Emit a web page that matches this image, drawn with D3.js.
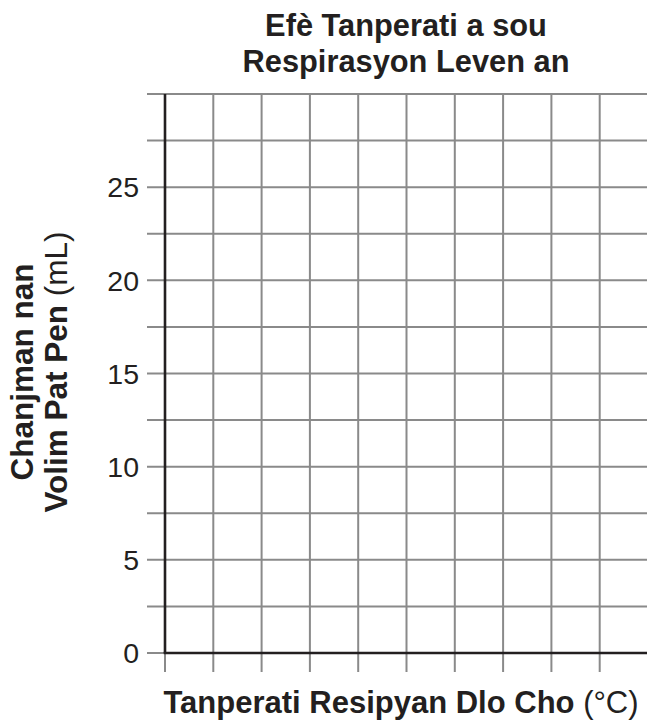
<!DOCTYPE html>
<html>
<head>
<meta charset="utf-8">
<script src="https://cdn.jsdelivr.net/npm/d3@7"></script>
<style>
  body { margin: 0; background: #fff; }
  svg { display: block; font-family: "Liberation Sans", Arial, Helvetica, sans-serif; }
</style>
</head>
<body>
<div id="chart"></div>
<script>
// chart text
const titleLines = ["Efè Tanperati a sou", "Respirasyon Leven an"];
const yLabelLines = [["Chanjman nan", ""], ["Volim Pat Pen", " (mL)"]];
const xLabelBold = "Tanperati Resipyan Dlo Cho";
const xLabelUnit = " (°C)";

// grid values (empty graph, no series)
const xGridValues = d3.range(0, 11);              // 10 columns
const yGridValues = d3.range(0, 30.01, 2.5);      // 12 rows
const yTickLabels = [0, 5, 10, 15, 20, 25];

const width = 647, height = 721;
const plot = { left: 165, right: 648, top: 94, bottom: 653 };

const svg = d3.select("#chart").append("svg")
  .attr("width", width)
  .attr("height", height);

const x = d3.scaleLinear().domain([0, 10]).range([plot.left, plot.right]);
const y = d3.scaleLinear().domain([0, 30]).range([plot.bottom, plot.top]);

const gridColor = "#8a8a8a";

// horizontal grid lines (stick out left of the axis)
svg.append("g").selectAll("line.hgrid")
  .data(yGridValues)
  .enter()
  .append("line")
  .attr("class", "hgrid")
  .attr("x1", plot.left - 18)
  .attr("x2", width)
  .attr("y1", d => y(d))
  .attr("y2", d => y(d))
  .attr("stroke", gridColor)
  .attr("stroke-width", 2);

// vertical grid lines (stick out below the axis)
svg.append("g").selectAll("line.vgrid")
  .data(xGridValues)
  .enter()
  .append("line")
  .attr("class", "vgrid")
  .attr("x1", d => x(d))
  .attr("x2", d => x(d))
  .attr("y1", plot.top)
  .attr("y2", plot.bottom + 19)
  .attr("stroke", gridColor)
  .attr("stroke-width", 2);

// axis lines
svg.append("line")
  .attr("x1", plot.left).attr("x2", plot.left)
  .attr("y1", plot.top).attr("y2", plot.bottom)
  .attr("stroke", "#231f20")
  .attr("stroke-width", 2.6);

svg.append("line")
  .attr("x1", plot.left - 1.3).attr("x2", width)
  .attr("y1", plot.bottom).attr("y2", plot.bottom)
  .attr("stroke", "#231f20")
  .attr("stroke-width", 2.6);

// y tick labels
svg.append("g").selectAll("text.ytick")
  .data(yTickLabels)
  .enter()
  .append("text")
  .attr("class", "ytick")
  .attr("x", 139)
  .attr("y", d => y(d))
  .attr("dy", "0.36em")
  .attr("text-anchor", "end")
  .attr("font-size", 28.5)
  .attr("fill", "#231f20")
  .text(d => d);

// title
svg.append("g").selectAll("text.title")
  .data(titleLines)
  .enter()
  .append("text")
  .attr("class", "title")
  .attr("x", 406)
  .attr("y", (d, i) => 36 + i * 35.5)
  .attr("text-anchor", "middle")
  .attr("font-size", 30.8)
  .attr("font-weight", "bold")
  .attr("fill", "#231f20")
  .text(d => d);

// x axis label
const xl = svg.append("text")
  .attr("x", 401)
  .attr("y", 713)
  .attr("text-anchor", "middle")
  .attr("font-size", 31)
  .attr("fill", "#231f20");
xl.append("tspan").attr("font-weight", "bold").text(xLabelBold);
xl.append("tspan").attr("font-weight", "normal").text(xLabelUnit);

// y axis label, two rotated lines
yLabelLines.forEach((parts, i) => {
  const t = svg.append("text")
    .attr("transform", `translate(${33 + i * 34},372) rotate(-90)`)
    .attr("text-anchor", "middle")
    .attr("font-size", 31.5)
    .attr("fill", "#231f20");
  t.append("tspan").attr("font-weight", "bold").text(parts[0]);
  if (parts[1]) t.append("tspan").attr("font-weight", "normal").text(parts[1]);
});
</script>
</body>
</html>
